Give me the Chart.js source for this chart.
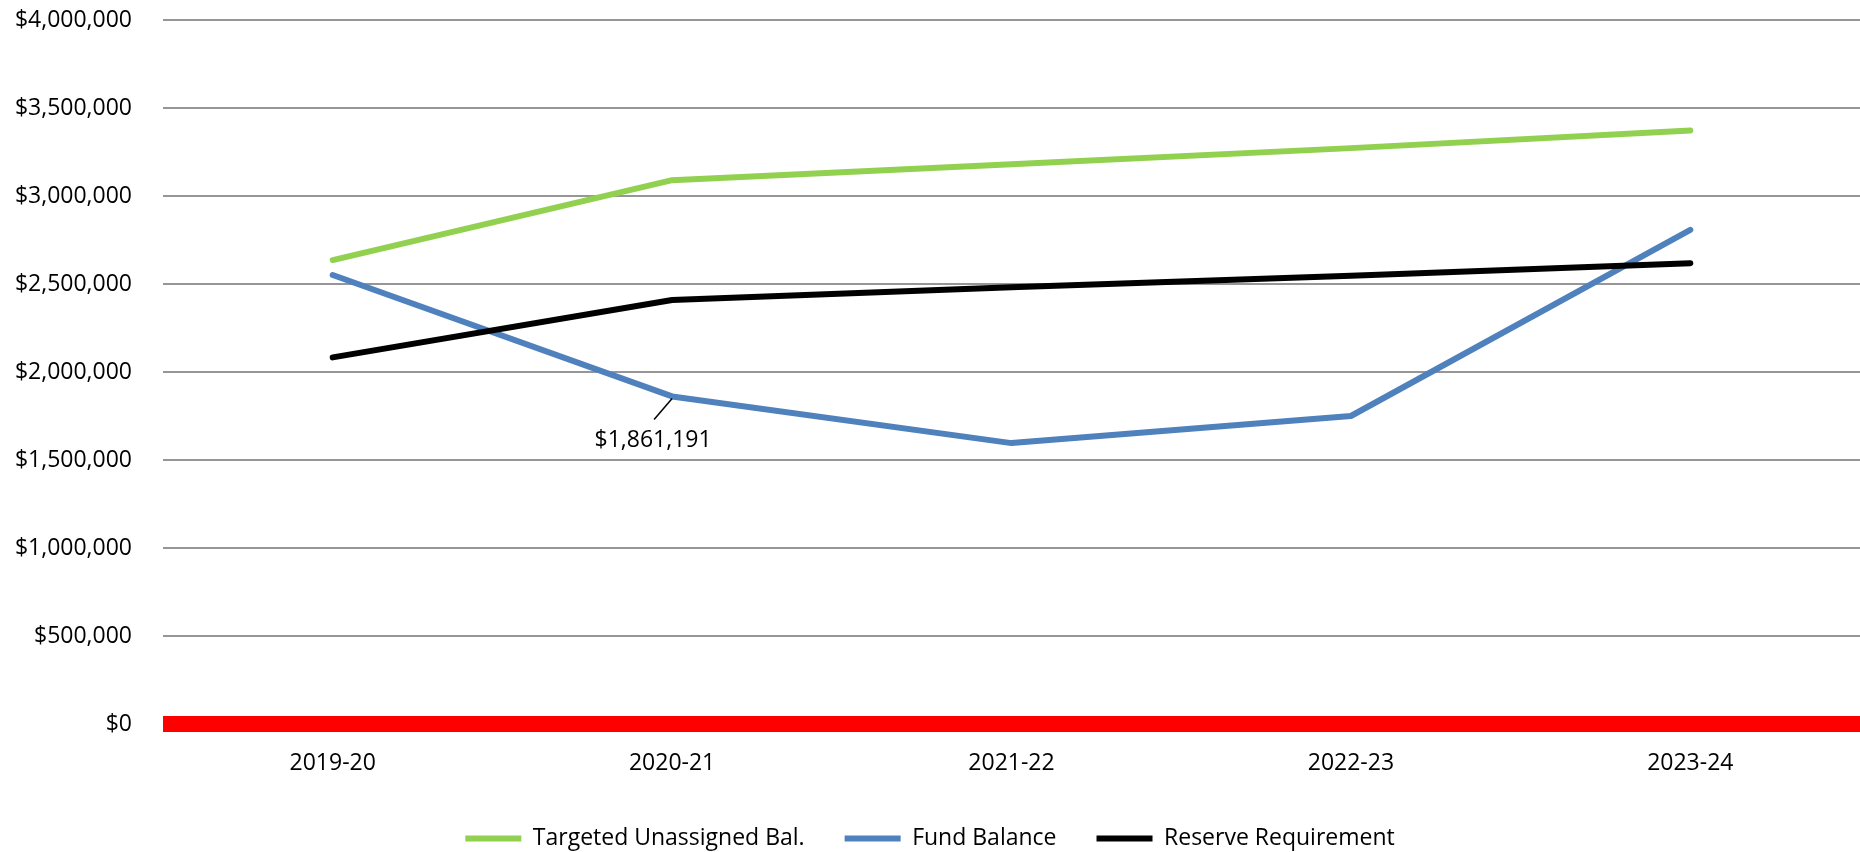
<!DOCTYPE html>
<html>
<head>
<meta charset="utf-8">
<script src="https://cdn.jsdelivr.net/npm/chart.js@4/dist/chart.umd.min.js"></script>
<style>
  html, body { margin: 0; padding: 0; background: #ffffff; overflow: hidden; }
  #wrap { position: relative; width: 1860px; height: 852px; }
</style>
</head>
<body>
<div id="wrap"><canvas id="c" width="1860" height="852"></canvas></div>
<script>
const categories = ['2019-20', '2020-21', '2021-22', '2022-23', '2023-24'];
const targetedUnassigned = [2636000, 3090000, 3180000, 3272000, 3372000];
const fundBalance = [2551000, 1861191, 1596000, 1750000, 2808000];
const reserveRequirement = [2083000, 2409000, 2482000, 2547000, 2618000];
const seriesNames = ['Targeted Unassigned Bal.', 'Fund Balance', 'Reserve Requirement'];
const yTickMin = 0, yTickMax = 4000000, yTickStep = 500000;
const labelledPoint = { dataset: 1, index: 1, text: '$1,861,191' };

const FONT = '"Open Sans", sans-serif';
const FS = 23;
const fmt = v => '$' + Number(v).toLocaleString('en-US');

const dataLabelPlugin = {
  id: 'dataLabel',
  afterDatasetsDraw(chart) {
    const meta = chart.getDatasetMeta(labelledPoint.dataset);
    const pt = meta.data[labelledPoint.index];
    if (!pt) return;
    const ctx = chart.ctx;
    ctx.save();
    ctx.strokeStyle = '#000000';
    ctx.lineWidth = 1.5;
    ctx.beginPath();
    ctx.moveTo(pt.x, pt.y + 2);
    ctx.lineTo(pt.x - 18, pt.y + 23);
    ctx.stroke();
    ctx.fillStyle = '#000000';
    ctx.font = FS + 'px ' + FONT;
    ctx.textAlign = 'center';
    ctx.textBaseline = 'middle';
    ctx.fillText(labelledPoint.text, pt.x - 19, pt.y + 44);
    ctx.restore();
  }
};

const common = { fill: false, tension: 0, pointRadius: 0, pointHoverRadius: 0, borderWidth: 6,
  borderCapStyle: 'round', borderJoinStyle: 'round' };

new Chart(document.getElementById('c'), {
  type: 'line',
  data: {
    labels: categories,
    datasets: [
      Object.assign({ label: seriesNames[0], data: targetedUnassigned, borderColor: '#92D050', backgroundColor: '#92D050', order: 2 }, common),
      Object.assign({ label: seriesNames[1], data: fundBalance, borderColor: '#4F81BD', backgroundColor: '#4F81BD', order: 1 }, common),
      Object.assign({ label: seriesNames[2], data: reserveRequirement, borderColor: '#000000', backgroundColor: '#000000', order: 0 }, common)
    ]
  },
  options: {
    responsive: false,
    animation: false,
    events: [],
    layout: { padding: { top: 20, right: 0, left: 0, bottom: -8 } },
    plugins: {
      tooltip: { enabled: false },
      legend: {
        position: 'bottom',
        labels: {
          usePointStyle: true,
          pointStyle: 'line',
          pointStyleWidth: 56,
          padding: 40,
          color: '#000000',
          font: { family: FONT, size: FS },
          sort: (a, b) => a.datasetIndex - b.datasetIndex
        }
      }
    },
    scales: {
      x: {
        type: 'category',
        offset: true,
        grid: { display: false, drawTicks: false },
        border: { display: false },
        ticks: { color: '#000000', font: { family: FONT, size: FS }, padding: 26, maxRotation: 0 },
        afterFit(scale) { scale.height = 63; }
      },
      y: {
        min: yTickMin,
        max: yTickMax,
        ticks: { stepSize: yTickStep, color: '#000000', font: { family: FONT, size: FS }, padding: 31,
          callback: v => fmt(v) },
        grid: {
          color: ctx => (ctx.tick && ctx.tick.value === 0) ? '#FF0000' : '#969696',
          lineWidth: ctx => (ctx.tick && ctx.tick.value === 0) ? 16 : 2,
          drawTicks: false
        },
        border: { display: false },
        afterFit(scale) { scale.width = 163; scale.paddingTop = 0; scale.paddingBottom = 0; }
      }
    }
  },
  plugins: [dataLabelPlugin]
});
</script>
</body>
</html>
